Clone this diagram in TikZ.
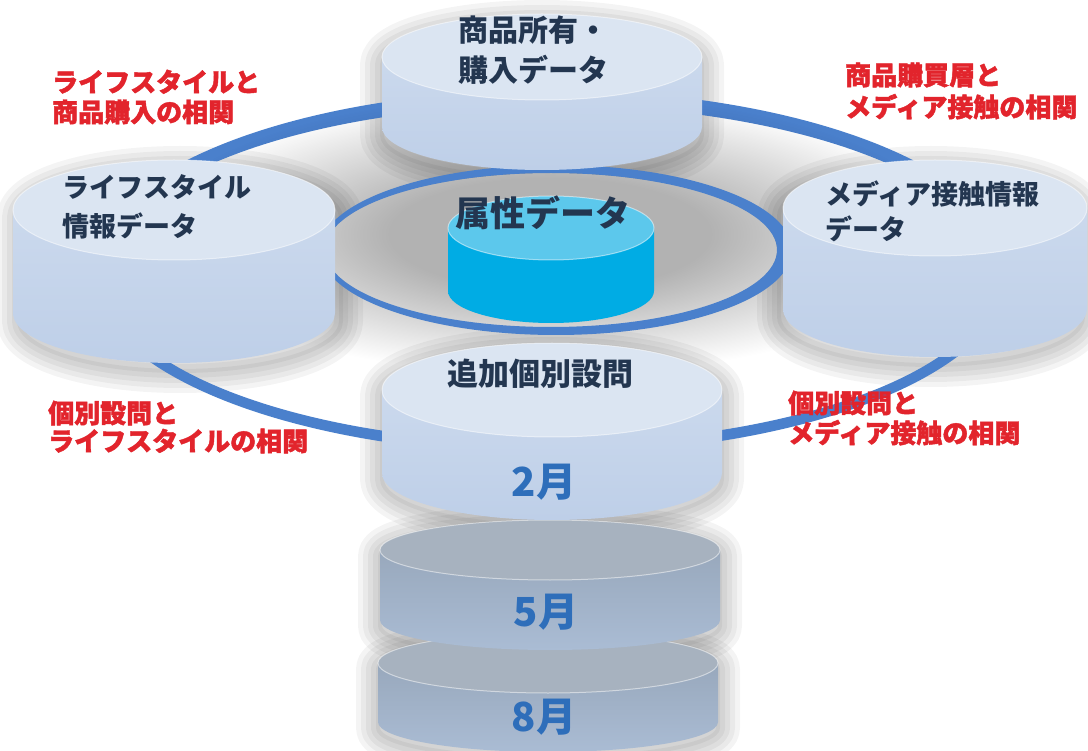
\documentclass[tikz,border=0pt]{standalone}
\usepackage{fontspec}
\newfontfamily\jp{Noto Sans CJK JP}
\newfontfamily\jpheavy{Noto Sans CJK JP}[BoldFeatures={FakeBold=1.6}]
\usetikzlibrary{fadings}
\definecolor{ringc}{RGB}{74,128,204}
\definecolor{labelc}{RGB}{35,54,80}
\definecolor{redc}{RGB}{226,36,44}
\definecolor{monthc}{RGB}{46,110,186}
\definecolor{ltop}{RGB}{219,229,242}
\definecolor{lbodyA}{RGB}{203,217,237}
\definecolor{lbodyB}{RGB}{190,207,232}
\definecolor{gtop}{RGB}{167,178,191}
\definecolor{gbodyA}{RGB}{152,168,188}
\definecolor{gbodyB}{RGB}{170,188,212}
\definecolor{ctop}{RGB}{92,200,236}
\definecolor{cbody}{RGB}{0,172,228}

\pgfdeclareradialshading{softshade}{\pgfpointorigin}{color(0bp)=(pgftransparent!0); color(10bp)=(pgftransparent!0); color(25bp)=(pgftransparent!100); color(50bp)=(pgftransparent!100)}
\pgfdeclarefading{soft}{\pgfuseshading{softshade}}

\newcommand\softshadow[5]{\fill[black,opacity=#5,path fading=soft] ({#1-2*#3},{#2-2*#4}) rectangle ({#1+2*#3},{#2+2*#4});}

% blurred silhouette shadow: cx rx topy ry boty dx dy
\newcommand\cylshadow[7]{%
  \begin{scope}[shift={(#6,#7)}]
  \foreach \w in {44,34,24,14,4}{%
    \draw[black,opacity=0.045,line width=\w pt,line join=round]
      ({#1-#2},#3) arc[start angle=180,end angle=0,x radius=#2pt,y radius=#4pt]
      -- ({#1+#2},#5) arc[start angle=0,end angle=-180,x radius=#2pt,y radius=#4pt] -- cycle;
  }
  \end{scope}
}

% cx rx topy ry boty topcolor bodytop bodybottom
\newcommand\drawcyl[8]{%
  \shade[top color=#7,bottom color=#8] ({#1-#2},#3) -- ({#1-#2},#5) arc[start angle=180,end angle=360,x radius=#2pt,y radius=#4pt] -- ({#1+#2},#3) -- cycle;
  \fill[#6] (#1,#3) ellipse[x radius=#2pt,y radius=#4pt];
  \draw[white,opacity=.5,line width=1pt] (#1,#3) ellipse[x radius=#2pt,y radius=#4pt];
}

\tikzset{
  darklbl/.style={text=labelc, inner sep=0pt, align=left, anchor=west},
  redlbl/.style={text=redc, inner sep=0pt, align=left, anchor=west},
  month/.style={text=monthc, inner sep=0pt, anchor=center, font={\jp\bfseries\fontsize{40}{44}\selectfont}},
}

\begin{document}
\begin{tikzpicture}[x=1pt,y=-1pt]
\useasboundingbox (0,0) rectangle (1088,751);
\clip (0,0) rectangle (1088,751);
\fill[white] (0,0) rectangle (1088,751);

% soft shadows
\cylshadow{542}{160}{57}{43}{127}{0}{8}
\cylshadow{174}{161}{210}{50}{313}{6}{8}
\cylshadow{935}{152}{208}{48}{309}{-4}{8}
\cylshadow{552}{170}{390}{47}{473}{0}{6}
\cylshadow{550}{170}{550}{30}{620}{0}{6}
\cylshadow{548}{170}{663}{30}{722}{0}{6}

% big ring
\fill[ringc, even odd rule] (550,272) ellipse[x radius=460pt,y radius=182pt] (550,274) ellipse[x radius=446pt,y radius=169pt];

% inner ring area
\fill[white] (551,250) ellipse[x radius=226pt,y radius=77pt];
\softshadow{550}{234}{200}{70}{0.3}
\fill[ringc, even odd rule] (556,250) ellipse[x radius=236pt,y radius=85pt] (551,250) ellipse[x radius=226pt,y radius=77pt];

% centre cylinder
\drawcyl{551}{103}{228}{32}{291}{ctop}{cbody}{cbody}

% four data cylinders
\drawcyl{542}{160}{57}{43}{127}{ltop}{lbodyA}{lbodyB}
\drawcyl{174}{161}{210}{50}{313}{ltop}{lbodyA}{lbodyB}
\drawcyl{935}{152}{208}{48}{309}{ltop}{lbodyA}{lbodyB}

% stack
\drawcyl{548}{170}{663}{30}{722}{gtop}{gbodyA}{gbodyB}
\drawcyl{550}{170}{550}{30}{620}{gtop}{gbodyA}{gbodyB}
\drawcyl{552}{170}{390}{47}{473}{ltop}{lbodyA}{lbodyB}

% labels on cylinders
\node[darklbl, font={\jp\bfseries\fontsize{30}{40}\selectfont}] (shohin) at (458,50) {商品所有・\\購入データ};
\node[darklbl, font={\jp\bfseries\fontsize{27}{39}\selectfont}] (life) at (62,207) {ライフスタイル\\情報データ};
\node[darklbl, font={\jp\bfseries\fontsize{27}{35}\selectfont}] (media) at (825,211) {メディア接触情報\\データ};
\node[darklbl, font={\jp\bfseries\fontsize{35}{40}\selectfont}] (zokusei) at (455,213) {属性データ};
\node[darklbl, font={\jp\bfseries\fontsize{31}{36}\selectfont}] (tsuika) at (447,374) {追加個別設問};
\node[month] (m2) at (544,482) {2月};
\node[month] (m5) at (546,612) {5月};
\node[month] (m8) at (544,717) {8月};

% red relation labels
\node[redlbl, font={\jpheavy\bfseries\fontsize{26}{30}\selectfont}] (rtl) at (52,97) {ライフスタイルと\\商品購入の相関};
\node[redlbl, font={\jpheavy\bfseries\fontsize{26}{32}\selectfont}] (rtr) at (845,91) {商品購買層と\\メディア接触の相関};
\node[redlbl, font={\jpheavy\bfseries\fontsize{26}{28}\selectfont}] (rbl) at (48,427) {個別設問と\\ライフスタイルの相関};
\node[redlbl, font={\jpheavy\bfseries\fontsize{26}{30}\selectfont}] (rbr) at (788,418) {個別設問と\\メディア接触の相関};
\end{tikzpicture}
\end{document}
